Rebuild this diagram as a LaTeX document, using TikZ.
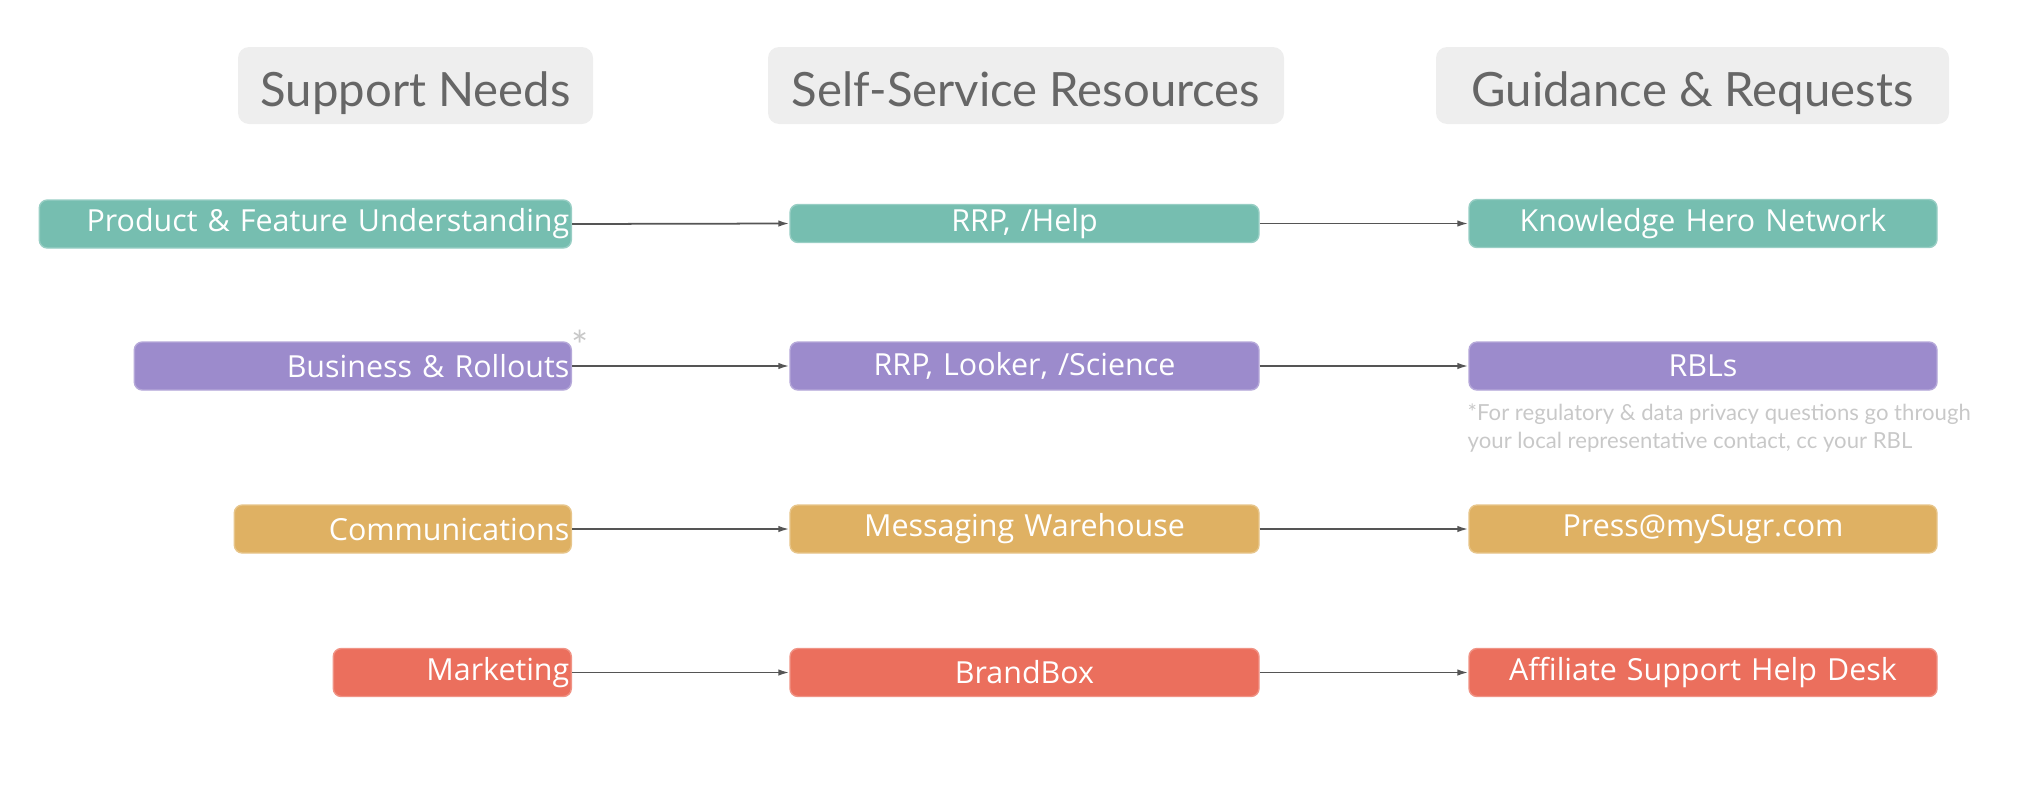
\documentclass[tikz,border=0pt]{standalone}
\usepackage{fontspec}
\usetikzlibrary{arrows.meta}
\newfontfamily\latofont{Lato}
\newfontfamily\osfont{Open Sans}
\definecolor{hdrfill}{HTML}{EEEEEE}
\definecolor{hdrtext}{HTML}{666666}
\definecolor{cteal}{HTML}{76BEB0}
\definecolor{cpurple}{HTML}{9C8BCC}
\definecolor{corange}{HTML}{DFB163}
\definecolor{cred}{HTML}{EB6F5D}
\definecolor{notegray}{HTML}{C8C8C8}
\definecolor{arrgray}{HTML}{555555}
\tikzset{
  hdr/.style={fill=hdrfill, rounded corners=1.1mm, inner sep=0pt, minimum height=7.7mm, text height=4.1mm, text depth=0pt, text=hdrtext, font=\latofont\fontsize{13.45}{15}\selectfont},
  cbox/.style={fill=#1, draw=#1!75!white, line width=0.4pt, rounded corners=0.8mm, inner ysep=0pt, text=white, font=\osfont\fontsize{8.65}{10}\selectfont},
  lbox/.style={cbox=#1, anchor=east, align=right, inner xsep=0.2mm, minimum height=4.8mm},
  cmbox/.style={cbox=#1, align=center, inner xsep=0pt, minimum height=4.8mm},
  arr/.style={draw=arrgray, line width=0.5pt, -{Latex[length=1.1mm,width=0.65mm]}},
}
\begin{document}
\begin{tikzpicture}[x=0.1mm,y=-0.1mm]
\useasboundingbox (0,0) rectangle (2040,784);
% headers
\node[hdr, minimum width=35.5mm] (h1) at (415.5,85.5) {Support Needs};
\node[hdr, minimum width=51.6mm] (h2) at (1026,85.5) {Self-Service Resources};
\node[hdr, minimum width=51.3mm] (h3) at (1692.5,85.5) {Guidance \& Requests};
% row 1
\node[lbox=cteal, text width=52.8mm] (l1) at (572,224) {Product \& Feature Understanding};
\node[cmbox=cteal, text width=46.9mm, minimum height=3.8mm] (m1) at (1024.5,223.5) {RRP, /Help};
\node[cmbox=cteal, text width=46.8mm] (r1) at (1703,223.5) {Knowledge Hero Network};
% row 2
\node[lbox=cpurple, text width=43.3mm] (l2) at (572,366) {Business \& Rollouts};
\node[cmbox=cpurple, text width=46.9mm] (m2) at (1024.5,366) {RRP, Looker, /Science};
\node[cmbox=cpurple, text width=46.8mm] (r2) at (1703,366) {RBLs};
\node[text=notegray, font=\latofont\fontsize{11.5}{12}\selectfont, inner sep=0pt] (ast) at (580,345) {*};
\node[text=notegray, font=\latofont\fontsize{6.3}{8}\selectfont, anchor=north west, align=left, inner sep=0pt] (note) at (1467,403) {*For regulatory \& data privacy questions go through\\your local representative contact, cc your RBL};
% row 3
\node[lbox=corange, text width=33.3mm] (l3) at (572,529) {Communications};
\node[cmbox=corange, text width=46.9mm] (m3) at (1024.5,529) {Messaging Warehouse};
\node[cmbox=corange, text width=46.8mm] (r3) at (1703,529) {Press@mySugr.com};
% row 4
\node[lbox=cred, text width=23.4mm] (l4) at (572,672.5) {Marketing};
\node[cmbox=cred, text width=46.9mm] (m4) at (1024.5,672.5) {BrandBox};
\node[cmbox=cred, text width=46.8mm] (r4) at (1703,672.5) {Affiliate Support Help Desk};
% arrows
\foreach \i in {1,2,3,4}{
  \draw[arr] (l\i.east) -- (m\i.west);
  \draw[arr] (m\i.east) -- (r\i.west);
}
\end{tikzpicture}
\end{document}
